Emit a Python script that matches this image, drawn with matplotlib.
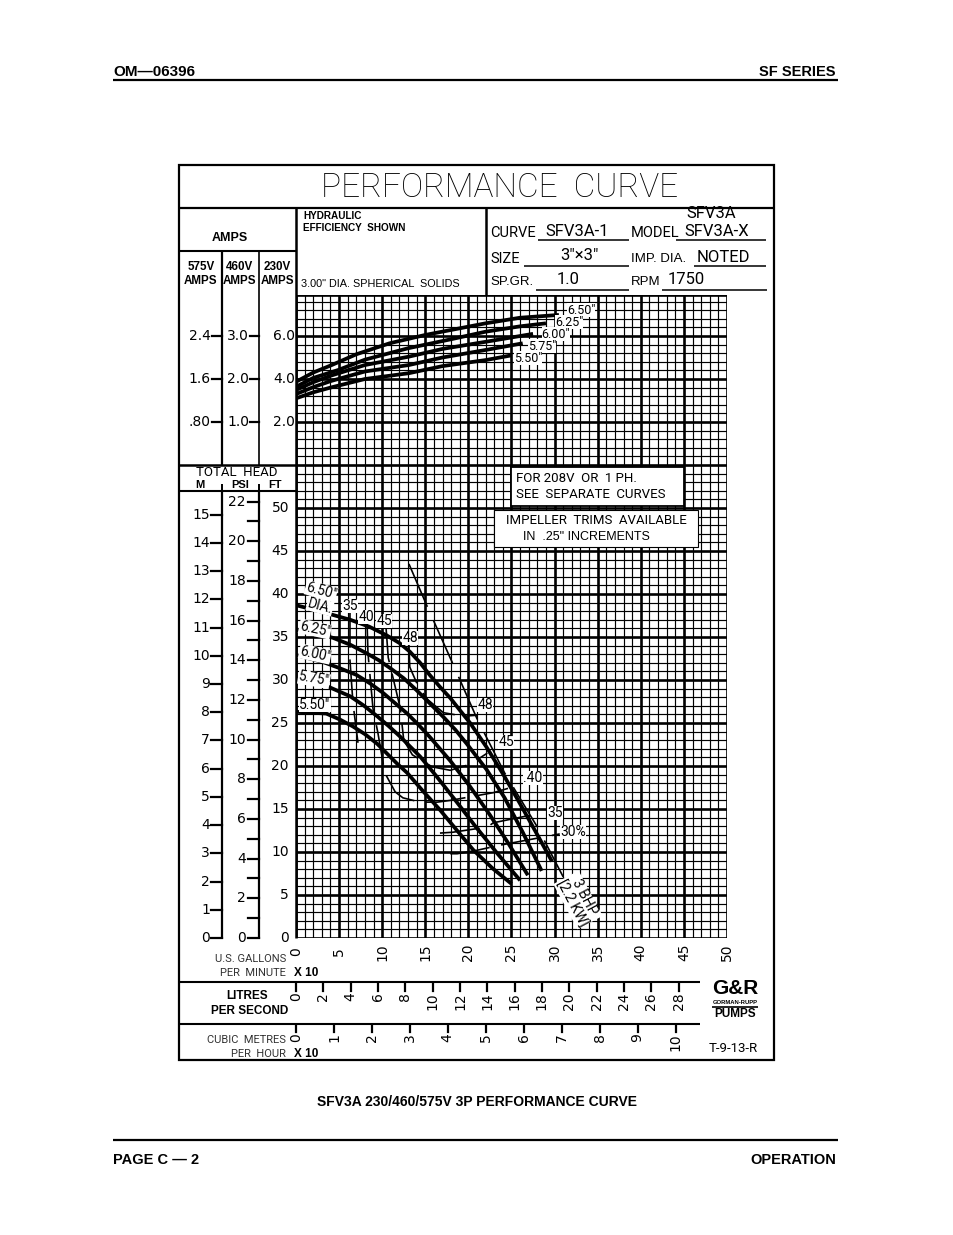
import matplotlib
matplotlib.use("Agg")
import matplotlib.pyplot as plt
import matplotlib.transforms as mtransforms
from matplotlib.patches import Rectangle

# ---------------- DATA ----------------
gpm_x10_ticks = [0, 5, 10, 15, 20, 25, 30, 35, 40, 45, 50]
lps_ticks = [0, 2, 4, 6, 8, 10, 12, 14, 16, 18, 20, 22, 24, 26, 28]
m3h_x10_ticks = [0, 1, 2, 3, 4, 5, 6, 7, 8, 9, 10]
head_m_ticks = list(range(0, 16))
head_psi_ticks = list(range(0, 23))
head_ft_ticks = [0, 5, 10, 15, 20, 25, 30, 35, 40, 45, 50]
amps230_ticks = [6.0, 4.0, 2.0]
amps460_labels = ['3.0', '2.0', '1.0']
amps575_labels = ['2.4', '1.6', '.80']
dia_labels = ['6.50"', '6.25"', '6.00"', '5.75"', '5.50"']

# head curves: flow (US GPM x 10) vs total head (ft)
head650_q = [0, 3.1, 6.3, 8.5, 10.5, 12.0, 13.2, 14.4, 15.5, 16.7, 17.9, 19.0, 20.2, 22.1, 24.0, 26.0, 28.0, 29.7]
head650_ft = [38.7, 37.9, 37.0, 36.2, 35.2, 34.3, 33.3, 32.0, 30.6, 29.2, 27.9, 26.5, 25.0, 22.2, 19.1, 15.6, 12.0, 8.9]
head625_q = [0, 2.0, 4.3, 6.3, 8.2, 9.6, 10.9, 12.5, 14.0, 15.5, 17.1, 18.5, 19.8, 22.1, 24.2, 26.3, 28.5]
head625_ft = [35.8, 35.5, 34.9, 34.1, 33.1, 32.3, 31.4, 30.2, 28.8, 27.3, 25.7, 24.2, 22.6, 19.6, 16.3, 12.3, 7.8]
head600_q = [0, 3.1, 5.0, 7.0, 8.6, 10.1, 11.5, 12.9, 14.2, 15.5, 17.9, 20.2, 22.5, 24.7, 26.9]
head600_ft = [32.9, 32.1, 31.4, 30.6, 29.6, 28.5, 27.3, 26.1, 24.8, 23.4, 20.6, 17.6, 14.3, 10.9, 7.3]
head575_q = [0, 3.1, 6.3, 7.9, 9.4, 10.8, 12.1, 13.3, 14.4, 16.3, 18.5, 20.8, 23.3, 26.0]
head575_ft = [29.9, 29.5, 28.1, 27.0, 25.8, 24.6, 23.4, 22.2, 21.1, 18.8, 16.0, 13.0, 9.9, 6.7]
head550_q = [0, 3.5, 5.1, 6.6, 8.0, 9.4, 10.5, 11.7, 12.9, 14.8, 16.7, 18.6, 20.6, 22.8, 25.0]
head550_ft = [26.3, 26.1, 25.4, 24.6, 23.7, 22.6, 21.5, 20.3, 19.2, 17.0, 14.9, 12.6, 10.2, 8.1, 6.3]

# motor current curves: flow vs 230V amps
amp650_q = [0, 2.0, 4.15, 7.0, 10.85, 15.0, 22.0, 26.0, 30.5]
amp650_a = [3.87, 4.30, 4.65, 5.15, 5.66, 6.05, 6.59, 6.85, 6.98]
amp625_q = [0, 2.0, 4.9, 8.0, 13.0, 18.0, 22.0, 26.0, 29.0]
amp625_a = [3.64, 4.05, 4.42, 4.90, 5.43, 5.85, 6.20, 6.45, 6.59]
amp600_q = [0, 2.0, 4.0, 8.0, 13.1, 17.0, 22.0, 27.5]
amp600_a = [3.49, 3.85, 4.15, 4.65, 5.04, 5.40, 5.73, 6.10]
amp575_q = [0, 2.0, 4.0, 8.0, 13.1, 17.0, 22.0, 26.3]
amp575_a = [3.30, 3.62, 3.90, 4.35, 4.65, 5.00, 5.35, 5.66]
amp550_q = [0, 2.0, 4.0, 8.0, 13.1, 17.0, 22.0, 25.0]
amp550_a = [3.10, 3.38, 3.60, 4.00, 4.27, 4.60, 4.88, 5.10]

# hydraulic efficiency contours (flow, ft)
eff35_left_q = [6.26, 6.26, 6.61, 7.19]
eff35_left_ft = [38.4, 32.3, 27.3, 22.7]
eff35_right_q = [16.7, 18.2, 22.2, 22.9, 28.3]
eff35_right_ft = [12.2, 12.3, 12.9, 13.4, 14.5]
eff40_q = [8.24, 8.35, 8.93, 9.51, 10.3, 11.5, 12.4, 14.4, 16.4, 17.9, 22.9, 24.6]
eff40_ft = [36.7, 33.1, 26.7, 23.8, 19.2, 17.0, 16.3, 15.8, 15.8, 16.0, 16.9, 17.4]
eff45_q = [10.4, 10.7, 12.1, 12.5, 13.5, 15.8, 17.9, 20.2, 22.2]
eff45_ft = [36.7, 32.6, 26.7, 23.0, 21.3, 19.9, 19.5, 20.2, 21.5]
eff48_q = [13.1, 13.2, 14.2, 15.3, 17.1, 19.4, 21.0]
eff48_ft = [34.1, 31.5, 29.2, 27.7, 26.2, 25.8, 25.9]
eff30_q = [17.9, 18.7, 21.0, 23.7, 30.6]
eff30_ft = [9.8, 9.8, 10.2, 10.8, 12.1]
# 3 BHP power limit line
bhp3_q = [13.1, 15.2, 18.1, 21.0, 24.2, 28.0, 31.0]
bhp3_ft = [43.5, 38.6, 32.1, 25.5, 19.2, 12.9, 7.1]

# unit conversions
GPM_PER_LPS = 15.850
GPM_PER_M3H = 4.4029
FT_PER_M = 3.2808
FT_PER_PSI = 2.3067
AMP_ZERO_FT = 55.0
FT_PER_AMP = 2.5

# ---------------- LAYOUT ----------------
W, H = 954, 1235
CAD = ['Roboto', 'DejaVu Sans']
HELV = ['Liberation Sans', 'DejaVu Sans']
NUM = ['DejaVu Sans']

fig = plt.figure(figsize=(W / 100, H / 100), dpi=100)
ax0 = fig.add_axes([0, 0, 1, 1])
ax0.set_xlim(0, W)
ax0.set_ylim(H, 0)
ax0.axis('off')

GX0, GX1 = 296, 727
GY0 = 938
FT_PX = 8.6
FT_TOP = 74.8
GY1 = GY0 - FT_TOP * FT_PX
axd = fig.add_axes([GX0 / W, (H - GY0) / H, (GX1 - GX0) / W, (GY0 - GY1) / H])
axd.set_xlim(0, 50)
axd.set_ylim(0, FT_TOP)
axd.axis('off')
axd.patch.set_alpha(0)

px = ax0.transData
x_px_y_ft = mtransforms.blended_transform_factory(ax0.transData, axd.transData)
x_q_y_px = mtransforms.blended_transform_factory(axd.transData, ax0.transData)
amp_tr = mtransforms.Affine2D().scale(1, FT_PER_AMP).translate(0, AMP_ZERO_FT) + axd.transData
x_px_y_amp = mtransforms.blended_transform_factory(ax0.transData, amp_tr)


def hline(ax, y, x1, x2, lw=1.5, tr=None):
    ax.plot([x1, x2], [y, y], color='k', lw=lw, transform=tr or px, clip_on=False,
            solid_capstyle='butt')


def vline(ax, x, y1, y2, lw=1.5, tr=None):
    ax.plot([x, x], [y1, y2], color='k', lw=lw, transform=tr or px, clip_on=False,
            solid_capstyle='butt')


# ---- page header/footer ----
ax0.text(113, 72, 'OM\u201406396', fontsize=11, fontweight='bold',
         family=HELV, ha='left', va='center')
ax0.text(836, 72, 'SF SERIES', fontsize=10.5, fontweight='bold', family=HELV, ha='right', va='center')
hline(ax0, 80, 113, 838, lw=1.6)
ax0.text(477, 1102, 'SFV3A 230/460/575V 3P PERFORMANCE CURVE', fontsize=10, fontweight='bold',
         family=HELV, ha='center', va='center')
hline(ax0, 1140, 113, 838, lw=1.6)
ax0.text(113, 1160, 'PAGE C \u2014 2', fontsize=10.5, fontweight='bold', family=HELV, ha='left', va='center')
ax0.text(836, 1160, 'OPERATION', fontsize=10.5, fontweight='bold', family=HELV, ha='right', va='center')

# ---- frame ----
ax0.add_patch(Rectangle((179, 165), 595, 895, fill=False, lw=1.6, ec='k'))
hline(ax0, 208, 179, 774, lw=1.6)
ax0.text(500, 188, 'PERFORMANCE  CURVE', fontsize=24, family=CAD, fontweight='light',
         ha='center', va='center')
vline(ax0, 296, 208, GY0, lw=1.8)
vline(ax0, 486, 208, 295, lw=1.8)
hline(ax0, 251, 179, 296, lw=1.5)
vline(ax0, 222, 251, 465, lw=1.6)
vline(ax0, 259, 251, 465, lw=1.2)
hline(ax0, 465, 179, 296, lw=1.8)
vline(ax0, 222, 484, 491, lw=1.4)
vline(ax0, 259, 484, 491, lw=1.4)
hline(ax0, 491, 179, 296, lw=1.5)
vline(ax0, 222, 491, 939, lw=1.6)
vline(ax0, 259, 491, 939, lw=1.6)
hline(ax0, 982, 179, 700, lw=1.5)
hline(ax0, 1024, 179, 700, lw=1.5)

# ---- header texts ----
ax0.text(303, 216, 'HYDRAULIC', fontsize=7.2, fontweight='bold', family=HELV, va='center')
ax0.text(303, 228, 'EFFICIENCY  SHOWN', fontsize=7.2, fontweight='bold', family=HELV, va='center')
ax0.text(301, 284, '3.00" DIA. SPHERICAL  SOLIDS', fontsize=7.8, family=HELV, va='center')
ax0.text(230, 238, 'AMPS', fontsize=9, fontweight='bold', family=HELV, ha='center', va='center')
for xc, v in [(201, '575V'), (240, '460V'), (277.5, '230V')]:
    ax0.text(xc, 267, v, fontsize=8.4, fontweight='bold', family=HELV, ha='center', va='center')
    ax0.text(xc, 281, 'AMPS', fontsize=8.4, fontweight='bold', family=HELV, ha='center', va='center')

ax0.text(490, 233, 'CURVE', fontsize=10.5, family=CAD, va='center')
ax0.text(545, 231, 'SFV3A-1', fontsize=12, family=CAD, va='center')
hline(ax0, 240, 538, 629, lw=1.1)
ax0.text(631, 233, 'MODEL', fontsize=10.5, family=CAD, va='center')
ax0.text(686, 214, 'SFV3A', fontsize=12, family=CAD, va='center')
ax0.text(684, 232, 'SFV3A-X', fontsize=12, family=CAD, va='center')
hline(ax0, 240, 676, 766, lw=1.1)
ax0.text(490, 259, 'SIZE', fontsize=10.5, family=CAD, va='center')
ax0.text(560, 256, '3"\u00d73"', fontsize=12, family=CAD, va='center')
hline(ax0, 266, 524, 629, lw=1.1)
ax0.text(631, 259, 'IMP. DIA.', fontsize=9.5, family=HELV, va='center')
ax0.text(697, 257, 'NOTED', fontsize=12, family=CAD, va='center')
hline(ax0, 266, 694, 766, lw=1.1)
ax0.text(490, 282, 'SP.GR.', fontsize=9.5, family=HELV, va='center')
ax0.text(557, 280, '1.0', fontsize=12, family=CAD, va='center')
hline(ax0, 290, 536, 629, lw=1.1)
ax0.text(631, 282, 'RPM', fontsize=9.5, family=HELV, va='center')
ax0.text(668, 280, '1750', fontsize=12, family=CAD, va='center')
hline(ax0, 290, 662, 767, lw=1.1)

# ---- grid ----
for i in range(0, 51):
    axd.plot([i, i], [0, FT_TOP], color='k', lw=1.9 if i % 5 == 0 else 0.85, zorder=1,
             solid_capstyle='butt')
for j in range(0, 75):
    axd.plot([0, 50], [j, j], color='k', lw=1.9 if j % 5 == 0 else 0.85, zorder=1,
             solid_capstyle='butt')
axd.plot([0, 50], [FT_TOP, FT_TOP], color='k', lw=1.9, zorder=1)

# note boxes over the grid
axd.add_patch(Rectangle((511, 467), 173, 39, transform=px, fc='white', ec='k', lw=1.3,
                        zorder=3, clip_on=False))
axd.text(516, 478, 'FOR 208V  OR  1 PH.', fontsize=9.5, family=CAD, va='center', transform=px, zorder=4)
axd.text(516, 495, 'SEE  SEPARATE  CURVES', fontsize=9.5, family=CAD, va='center', transform=px, zorder=4)
axd.add_patch(Rectangle((494, 510), 204, 37, transform=px, fc='white', ec='k', lw=0.8,
                        zorder=3, clip_on=False))
axd.text(596, 521, 'IMPELLER  TRIMS  AVAILABLE', fontsize=9.5, family=CAD, ha='center', va='center',
         transform=px, zorder=4)
axd.text(586, 537, 'IN  .25" INCREMENTS', fontsize=9, family=HELV, ha='center', va='center',
         transform=px, zorder=4)

# ---- curves ----
heads = [(head650_q, head650_ft), (head625_q, head625_ft), (head600_q, head600_ft),
         (head575_q, head575_ft), (head550_q, head550_ft)]
for q, h in heads:
    axd.plot(q, h, color='k', lw=2.7, zorder=5, solid_capstyle='butt', solid_joinstyle='round')
amps = [(amp650_q, amp650_a), (amp625_q, amp625_a), (amp600_q, amp600_a),
        (amp575_q, amp575_a), (amp550_q, amp550_a)]
for q, a in amps:
    axd.plot(q, a, color='k', lw=2.7, zorder=5, transform=amp_tr, solid_capstyle='butt',
             solid_joinstyle='round')

for q, h in [(eff35_left_q, eff35_left_ft), (eff35_right_q, eff35_right_ft), (eff40_q, eff40_ft),
             (eff45_q, eff45_ft), (eff48_q, eff48_ft), (eff30_q, eff30_ft)]:
    axd.plot(q, h, color='k', lw=1.2, zorder=4, dashes=(24, 7))
axd.plot(bhp3_q, bhp3_ft, color='k', lw=1.2, dashes=(28, 9), zorder=4)

# curve labels
wb = dict(facecolor='white', edgecolor='none', pad=0.3)
for (xc, yc, rot), lab in zip([(321, 591, -15), (315, 629, -12), (315, 654, -12), (314, 679, -10),
                                (315, 705, 0)], dia_labels):
    axd.text(xc, yc, lab, fontsize=10, family=CAD, ha='center', va='center', rotation=rot,
             transform=px, zorder=6, bbox=wb)
axd.text(320, 606, 'DIA.', fontsize=10, family=CAD, ha='center', va='center', rotation=-15,
         transform=px, zorder=6, bbox=wb)
for (xc, yc), lab in zip([(581, 310), (569, 322), (556, 334), (542, 346), (528, 358)], dia_labels):
    axd.text(xc, yc, lab, fontsize=9, family=CAD, ha='center', va='center', transform=px,
             zorder=6, bbox=dict(facecolor='white', edgecolor='none', pad=0.1))
for (xc, yc), lab in [((350, 606), '35'), ((366, 617), '40'), ((384, 621), '45'), ((410, 638), '48'),
                      ((485, 705), '48'), ((506, 742), '45'), ((533, 778), '.40'), ((555, 813), '35'),
                      ((573, 832), '30%')]:
    axd.text(xc, yc, lab, fontsize=10, family=CAD, ha='center', va='center', transform=px,
             zorder=6, bbox=dict(facecolor='white', edgecolor='none', pad=0.2))
axd.text(578, 900, '3 BHP\n[2.2 KW]', fontsize=10, family=CAD, ha='center', va='center',
         rotation=-62, linespacing=1.0, transform=px, zorder=6,
         bbox=dict(facecolor='white', edgecolor='none', pad=0.2))

# ---- left axis scales ----
for v, lab in zip(amps230_ticks, amps575_labels):
    ax0.text(211, v, lab, fontsize=10, family=NUM, ha='right', va='center', transform=x_px_y_amp)
    ax0.plot([212, 222], [v, v], color='k', lw=1.6, transform=x_px_y_amp)
for v, lab in zip(amps230_ticks, amps460_labels):
    ax0.text(249, v, lab, fontsize=10, family=NUM, ha='right', va='center', transform=x_px_y_amp)
    ax0.plot([250, 259], [v, v], color='k', lw=1.6, transform=x_px_y_amp)
for v in amps230_ticks:
    ax0.text(295, v, f'{v:.1f}', fontsize=10, family=NUM, ha='right', va='center', transform=x_px_y_amp)

ax0.text(237, 472, 'TOTAL  HEAD', fontsize=9.5, family=CAD, ha='center', va='center')
ax0.text(200, 485, 'M', fontsize=8, fontweight='bold', family=HELV, ha='center', va='center')
ax0.text(240, 485, 'PSI', fontsize=8, fontweight='bold', family=HELV, ha='center', va='center')
ax0.text(275, 485, 'FT', fontsize=8, fontweight='bold', family=HELV, ha='center', va='center')

for m in head_m_ticks:
    ax0.text(210, m * FT_PER_M, str(m), fontsize=10, family=NUM, ha='right', va='center',
             transform=x_px_y_ft)
    ax0.plot([211, 222], [m * FT_PER_M] * 2, color='k', lw=1.6, transform=x_px_y_ft)
for p in head_psi_ticks:
    ax0.plot([248, 259], [p * FT_PER_PSI] * 2, color='k', lw=1.6, transform=x_px_y_ft)
    if p % 2 == 0:
        ax0.text(246, p * FT_PER_PSI, str(p), fontsize=10, family=NUM, ha='right', va='center',
                 transform=x_px_y_ft)
for f in head_ft_ticks:
    ax0.text(289, f, str(f), fontsize=10, family=NUM, ha='right', va='center', transform=x_px_y_ft)

# ---- bottom flow scales ----
for g in gpm_x10_ticks:
    ax0.text(g, 952, str(g), fontsize=10, family=NUM, rotation=90, ha='center', va='center',
             transform=x_q_y_px)
ax0.text(286, 959, 'U.S. GALLONS', fontsize=8, family=CAD, color='#333333', ha='right', va='center')
ax0.text(286, 973, 'PER  MINUTE', fontsize=8, family=CAD, color='#333333', ha='right', va='center')
ax0.text(294, 973, 'X 10', fontsize=8.5, fontweight='bold', family=HELV, ha='left', va='center')

for l in lps_ticks:
    q = l * GPM_PER_LPS / 10.0
    ax0.plot([q, q], [983, 991], color='k', lw=1.6, transform=x_q_y_px)
    ax0.text(q, 992, str(l), fontsize=10, family=NUM, rotation=90, ha='center', va='top',
             transform=x_q_y_px)
ax0.text(247, 996, 'LITRES', fontsize=8.5, fontweight='bold', family=HELV, ha='center', va='center')
ax0.text(250, 1011, 'PER SECOND', fontsize=8.5, fontweight='bold', family=HELV, ha='center', va='center')

for c in m3h_x10_ticks:
    q = c * 10 * GPM_PER_M3H / 10.0
    ax0.plot([q, q], [1025, 1032], color='k', lw=1.6, transform=x_q_y_px)
    ax0.text(q, 1033, str(c), fontsize=10, family=NUM, rotation=90, ha='center', va='top',
             transform=x_q_y_px)
ax0.text(286, 1040, 'CUBIC  METRES', fontsize=8, family=CAD, color='#333333', ha='right', va='center')
ax0.text(286, 1054, 'PER  HOUR', fontsize=8, family=CAD, color='#333333', ha='right', va='center')
ax0.text(294, 1054, 'X 10', fontsize=8.5, fontweight='bold', family=HELV, ha='left', va='center')

# logo and drawing number
ax0.text(735, 988, 'G&R', fontsize=15, fontweight='heavy', family=HELV, ha='center', va='center')
ax0.text(735, 1003, 'GORMAN-RUPP', fontsize=4.2, fontweight='bold', family=HELV, ha='center', va='center')
hline(ax0, 1007, 712, 758, lw=1.2)
ax0.text(735, 1014, 'PUMPS', fontsize=8.5, fontweight='heavy', family=HELV, ha='center', va='center')
ax0.text(733, 1048, 'T-9-13-R', fontsize=9.5, family=CAD, ha='center', va='center')

fig.savefig('out.png', dpi=100)
